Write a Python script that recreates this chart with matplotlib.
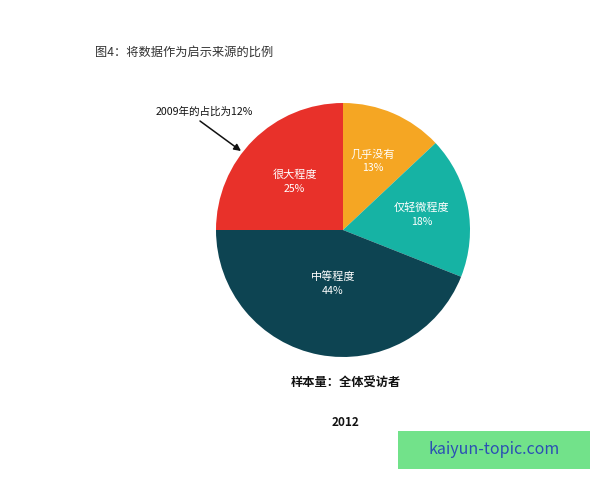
import matplotlib
matplotlib.use("Agg")
import matplotlib.pyplot as plt
from matplotlib.patches import Rectangle
import numpy as np

plt.rcParams['font.family'] = ['Noto Sans CJK SC', 'DejaVu Sans']

# ── Datos ────────────────────────────────────────────────────────────────────
categorias = ["几乎没有", "仅轻微程度", "中等程度", "很大程度"]
valores = [13, 18, 44, 25]
colores = ["#f5a623", "#16b3a4", "#0d4452", "#e8312a"]
dist_etiqueta = [0.59, 0.63, 0.43, 0.54]   # radio relativo de cada rótulo

titulo = "图4：将数据作为启示来源的比例"
nota = "2009年的占比为12%"
muestra = "样本量：全体受访者"
anio = "2012"
marca = "kaiyun-topic.com"

# ── Figura en coordenadas de píxel ───────────────────────────────────────────
W, H = 600, 480
fig = plt.figure(figsize=(6, 4.8), dpi=100)
ax = fig.add_axes([0, 0, 1, 1])

cx, cy, r = 343, H - 230, 127
wedges, _ = ax.pie(valores, colors=colores, startangle=90, counterclock=False,
                   center=(cx, cy), radius=r, frame=True,
                   wedgeprops=dict(linewidth=0))
ax.set_xlim(0, W)
ax.set_ylim(0, H)
ax.set_aspect("equal")
ax.axis("off")

for w, cat, val, d in zip(wedges, categorias, valores, dist_etiqueta):
    ang = np.deg2rad((w.theta1 + w.theta2) / 2)
    x = cx + d * r * np.cos(ang)
    y = cy + d * r * np.sin(ang)
    ax.text(x, y + 7, cat, color="white", fontsize=8, ha="center", va="center")
    ax.text(x, y - 7, f"{val}%", color="white", fontsize=7.6, ha="center", va="center")

# ── Textos ───────────────────────────────────────────────────────────────────
ax.text(95, H - 52, titulo, fontsize=8.8, color="#333333", ha="left", va="center")

ax.text(204, H - 112, nota, fontsize=7.6, color="#111111", ha="center", va="center")
ax.annotate("", xy=(241, H - 151), xytext=(200, H - 121),
            arrowprops=dict(arrowstyle="-|>", color="#111111", lw=1.1,
                            shrinkA=0, shrinkB=0, mutation_scale=10))

ax.text(346, H - 383, muestra, fontsize=8.8, color="#111111",
        ha="center", va="center", fontweight="bold")
ax.text(346, H - 423, anio, fontsize=8.5, color="#111111",
        ha="center", va="center", fontweight="bold")

# ── Marca de agua ────────────────────────────────────────────────────────────
ax.add_patch(Rectangle((398, H - 469), 192, 38, facecolor="#72e28a",
                       edgecolor="none", zorder=5))
ax.text(494, H - 450, marca, fontsize=11.5, color="#2b4fb4",
        ha="center", va="center", zorder=6)

fig.savefig("out.png", dpi=100)
